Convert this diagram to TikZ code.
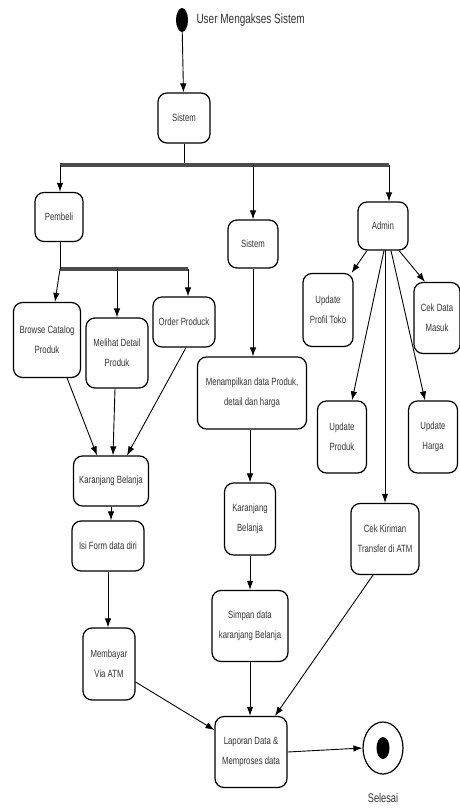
\documentclass[tikz,border=0pt]{standalone}
\usepackage{fontspec}
\setmainfont{Liberation Sans}[FakeStretch=0.74]
\usetikzlibrary{arrows.meta,shapes.geometric}
\begin{document}
\begin{tikzpicture}[x=1pt,y=-1pt,
  box/.style={draw, rounded corners=9pt, line width=1.2pt, align=center, inner sep=1pt,
    font=\fontsize{10.5}{20}\selectfont, text=black!80},
  arr/.style={-{Latex[length=9pt,width=6.5pt]}, line width=0.9pt},
  ln/.style={line width=0.9pt},
  bar/.style={line width=3.2pt, black!70}]
\useasboundingbox (0,0) rectangle (459,808);
% start
\node[fill=black, ellipse, minimum width=12, minimum height=24, inner sep=0] (start) at (182,20) {};
\node[anchor=west, font=\fontsize{13.5}{15}\selectfont, text=black!80] (title) at (193,20) {User Mengakses Sistem};
\node[box, minimum width=52, minimum height=50] (s1) at (184,118) {Sistem};
\draw[arr] (start) -- (s1);
% bar 1
\coordinate (b1l) at (60,165);
\coordinate (b1m) at (184,165);
\coordinate (b1c) at (253,165);
\coordinate (b1r) at (389,165);
\draw[ln] (s1.south) -- (b1m);
\draw[bar] (b1l) -- (b1r);
% level 2
\node[box, minimum width=48, minimum height=49] (pemb) at (59,217) {Pembeli};
\node[box, minimum width=50, minimum height=48] (s2) at (253,244) {Sistem};
\node[box, minimum width=50, minimum height=48] (admin) at (383,226) {Admin};
\draw[arr] (b1l) -- (pemb.north -| b1l);
\draw[arr] (b1c) -- (s2.north);
\draw[arr] (b1r) -- (b1r |- admin.north);
% bar 2
\coordinate (b2l) at (60,269);
\coordinate (b2m) at (117,269);
\coordinate (b2r) at (188,269);
\coordinate (bk) at (55,300);
\draw[bar] (b2l) -- (b2r);
\node[box, minimum width=67, minimum height=75] (browse) at (47,340) {Browse Catalog\\Produk};
\node[box, minimum width=62, minimum height=70] (melihat) at (117,353) {Melihat Detail\\Produk};
\node[box, minimum width=62, minimum height=50] (order) at (184,322) {Order Produck};
\draw[ln] (pemb.south -| b2l) -- (b2l);
\draw[arr] (b2l) -- (bk |- browse.north);
\draw[arr] (b2m) -- (melihat.north);
\draw[arr] (b2r) -- (b2r |- order.north);
% left column
\node[box, minimum width=75, minimum height=50] (kb1) at (111,481) {Karanjang Belanja};
\node[box, minimum width=72, minimum height=50] (isi) at (108,546) {Isi Form data diri};
\node[box, minimum width=52, minimum height=72] (bayar) at (109,664) {Membayar\\Via ATM};
\draw[arr] ([xshift=-14pt]browse.south east) -- ([xshift=-14pt]kb1.north);
\draw[arr] ([xshift=-2pt]melihat.south) -- ([xshift=2pt]kb1.north);
\draw[arr] ([xshift=2pt]order.south) -- ([xshift=16pt]kb1.north);
\draw[arr] (kb1.south) -- (kb1.south |- isi.north);
\draw[arr] (isi.south) -- (isi.south |- bayar.north);
% middle column
\node[box, minimum width=109, minimum height=72] (menamp) at (252,393) {Menampilkan data Produk,\\detail dan harga};
\node[box, minimum width=51, minimum height=72] (kb2) at (250,519) {Karanjang\\Belanja};
\node[box, minimum width=76, minimum height=71] (simpan) at (250,626) {Simpan data\\karanjang Belanja};
\node[box, minimum width=72, minimum height=71] (lap) at (251,752) {Laporan Data \&\\Memproses data};
\draw[arr] (s2.south) -- (s2.south |- menamp.north);
\draw[arr] (menamp.south -| kb2) -- (kb2.north);
\draw[arr] (kb2.south) -- (simpan.north);
\draw[arr] (simpan.south) -- (simpan.south |- lap.north);
% right column
\node[box, minimum width=50, minimum height=73] (profil) at (328,310) {Update\\Profil Toko};
\node[box, minimum width=46, minimum height=71] (cek) at (437,318) {Cek Data\\Masuk};
\node[box, minimum width=49, minimum height=72] (uprod) at (342,437) {Update\\Produk};
\node[box, minimum width=49, minimum height=72] (uharga) at (433,437) {Update\\Harga};
\node[box, minimum width=68, minimum height=71] (kirim) at (385,539) {Cek Kiriman\\Transfer di ATM};
\coordinate (adown) at (385,250);
\draw[arr] ([xshift=-16pt]admin.south) -- ([xshift=-2pt]profil.north east);
\draw[arr] ([xshift=16pt]admin.south) -- ([xshift=-12pt]cek.north);
\draw[arr] ([xshift=1pt]admin.south) -- ([xshift=10pt]uprod.north);
\draw[arr] ([xshift=8pt]admin.south) -- ([xshift=-8pt]uharga.north);
\draw[arr] (adown) -- (adown |- kirim.north);
% to laporan
\draw[arr] ([yshift=-18pt]bayar.east) -- ([yshift=22pt]lap.west);
\draw[arr] ([xshift=-12pt]kirim.south) -- ([xshift=24pt]lap.north);
% end
\node[draw, ellipse, line width=1.2pt, minimum width=40, minimum height=52, inner sep=0] (end) at (383,748) {};
\node[fill=black, ellipse, minimum width=13, minimum height=22, inner sep=0] (enddot) at (383,748) {};
\draw[arr] (lap.east) -- (end.west);
\node[font=\fontsize{12.5}{14}\selectfont, text=black!80] (sel) at (383,798) {Selesai};
\end{tikzpicture}
\end{document}
